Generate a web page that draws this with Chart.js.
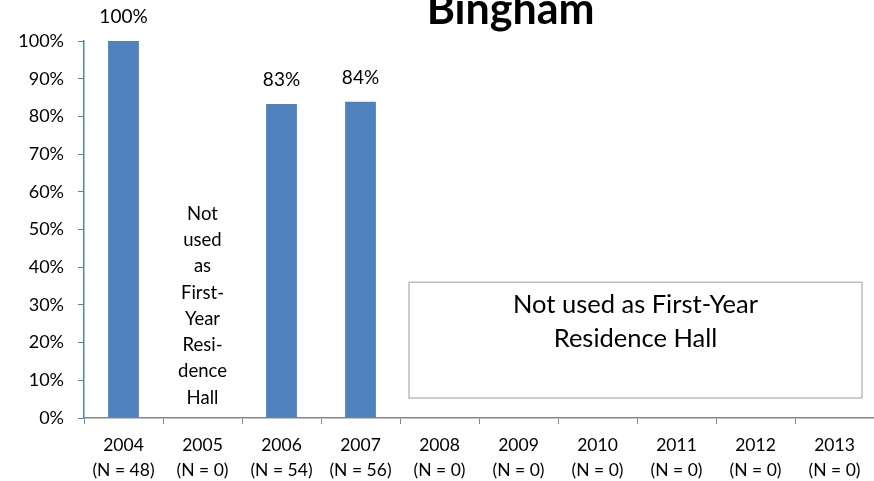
<!DOCTYPE html>
<html>
<head>
<meta charset="utf-8">
<script src="https://cdn.jsdelivr.net/npm/chart.js@4/dist/chart.umd.min.js"></script>
<style>
  html, body { margin: 0; padding: 0; background: #ffffff; }
  #wrap { width: 874px; height: 481px; position: relative; }
</style>
</head>
<body>
<div id="wrap"><canvas id="c" width="874" height="481"></canvas></div>
<script>
const titleText = 'Bingham';
const years = ['2004', '2005', '2006', '2007', '2008', '2009', '2010', '2011', '2012', '2013'];
const nCounts = [48, 0, 54, 56, 0, 0, 0, 0, 0, 0];
const percentValues = [100, null, 83.3, 83.9, null, null, null, null, null, null];
const valueLabels = ['100%', '', '83%', '84%', '', '', '', '', '', ''];
const columnNoteLines = ['Not', 'used', 'as', 'First-', 'Year', 'Resi-', 'dence', 'Hall'];
const boxNoteLines = ['Not used as First-Year', 'Residence Hall'];
const yTicks = [0, 10, 20, 30, 40, 50, 60, 70, 80, 90, 100];

const FONT = 'Lato, "Open Sans", sans-serif';
const categoryLabels = years.map((y, i) => [y, '(N = ' + nCounts[i] + ')']);

const annotatePlugin = {
  id: 'annotate',
  afterDatasetsDraw(chart) {
    const ctx = chart.ctx;
    const xs = chart.scales.x;
    const ys = chart.scales.y;
    const area = chart.chartArea;
    ctx.save();
    // value labels
    ctx.fillStyle = '#000000';
    ctx.font = '19px ' + FONT;
    ctx.textAlign = 'center';
    ctx.textBaseline = 'middle';
    const meta = chart.getDatasetMeta(0);
    meta.data.forEach((bar, i) => {
      if (percentValues[i] == null) return;
      ctx.fillText(valueLabels[i], bar.x, bar.y - 24);
    });
    // column note in 2005
    ctx.font = '18.5px ' + FONT;
    const cx = xs.getPixelForValue(1);
    const lineH = 26.3;
    const startY = ys.getPixelForValue(54.2);
    columnNoteLines.forEach((t, k) => {
      ctx.fillText(t, cx, startY + k * lineH);
    });
    // box note
    const step = xs.getPixelForValue(1) - xs.getPixelForValue(0);
    const bx1 = xs.getPixelForValue(4) - step / 2 + 9;
    const bx2 = area.right - 12;
    const by1 = ys.getPixelForValue(36);
    const by2 = ys.getPixelForValue(5.3);
    ctx.strokeStyle = '#BDBDBD';
    ctx.lineWidth = 1.5;
    ctx.strokeRect(bx1, by1, bx2 - bx1, by2 - by1);
    ctx.font = '25.5px ' + FONT;
    const bcx = (bx1 + bx2) / 2;
    ctx.fillText(boxNoteLines[0], bcx, by1 + 23);
    ctx.fillText(boxNoteLines[1], bcx, by1 + 57);
    // title (partly cut off at top)
    ctx.font = 'bold 43px ' + FONT;
    ctx.textBaseline = 'alphabetic';
    ctx.fillText(titleText, xs.getPixelForValue(4.9), 24);
    ctx.restore();
  }
};

new Chart(document.getElementById('c'), {
  type: 'bar',
  data: {
    labels: categoryLabels,
    datasets: [{
      data: percentValues,
      backgroundColor: '#4F81BD',
      borderWidth: 0,
      barPercentage: 0.39,
      categoryPercentage: 1.0
    }]
  },
  options: {
    responsive: false,
    animation: false,
    devicePixelRatio: 1,
    layout: { padding: { top: 41, right: 0, left: 0, bottom: 0 } },
    plugins: {
      legend: { display: false },
      title: { display: false },
      tooltip: { enabled: false }
    },
    scales: {
      x: {
        offset: true,
        grid: {
          display: true,
          drawOnChartArea: false,
          drawTicks: true,
          tickLength: 6,
          color: '#868686',
          offset: true
        },
        border: { display: true, color: '#868686', width: 1.5 },
        ticks: {
          color: '#000000',
          font: { family: FONT, size: 17.5, lineHeight: 1.42 },
          padding: 9,
          maxRotation: 0,
          autoSkip: false
        },
        afterFit(scale) { scale.height = 63; }
      },
      y: {
        min: 0,
        max: 100,
        afterBuildTicks(scale) { scale.ticks = yTicks.map(v => ({ value: v })); },
        grid: {
          display: true,
          drawOnChartArea: false,
          drawTicks: true,
          tickLength: 6,
          color: '#4F81BD'
        },
        border: { display: true, color: '#4F81BD', width: 1.5 },
        ticks: {
          color: '#000000',
          font: { family: FONT, size: 18 },
          padding: 14,
          callback: (v) => v + '%'
        },
        afterFit(scale) { scale.width = 84; }
      }
    }
  },
  plugins: [annotatePlugin]
});
</script>
</body>
</html>
